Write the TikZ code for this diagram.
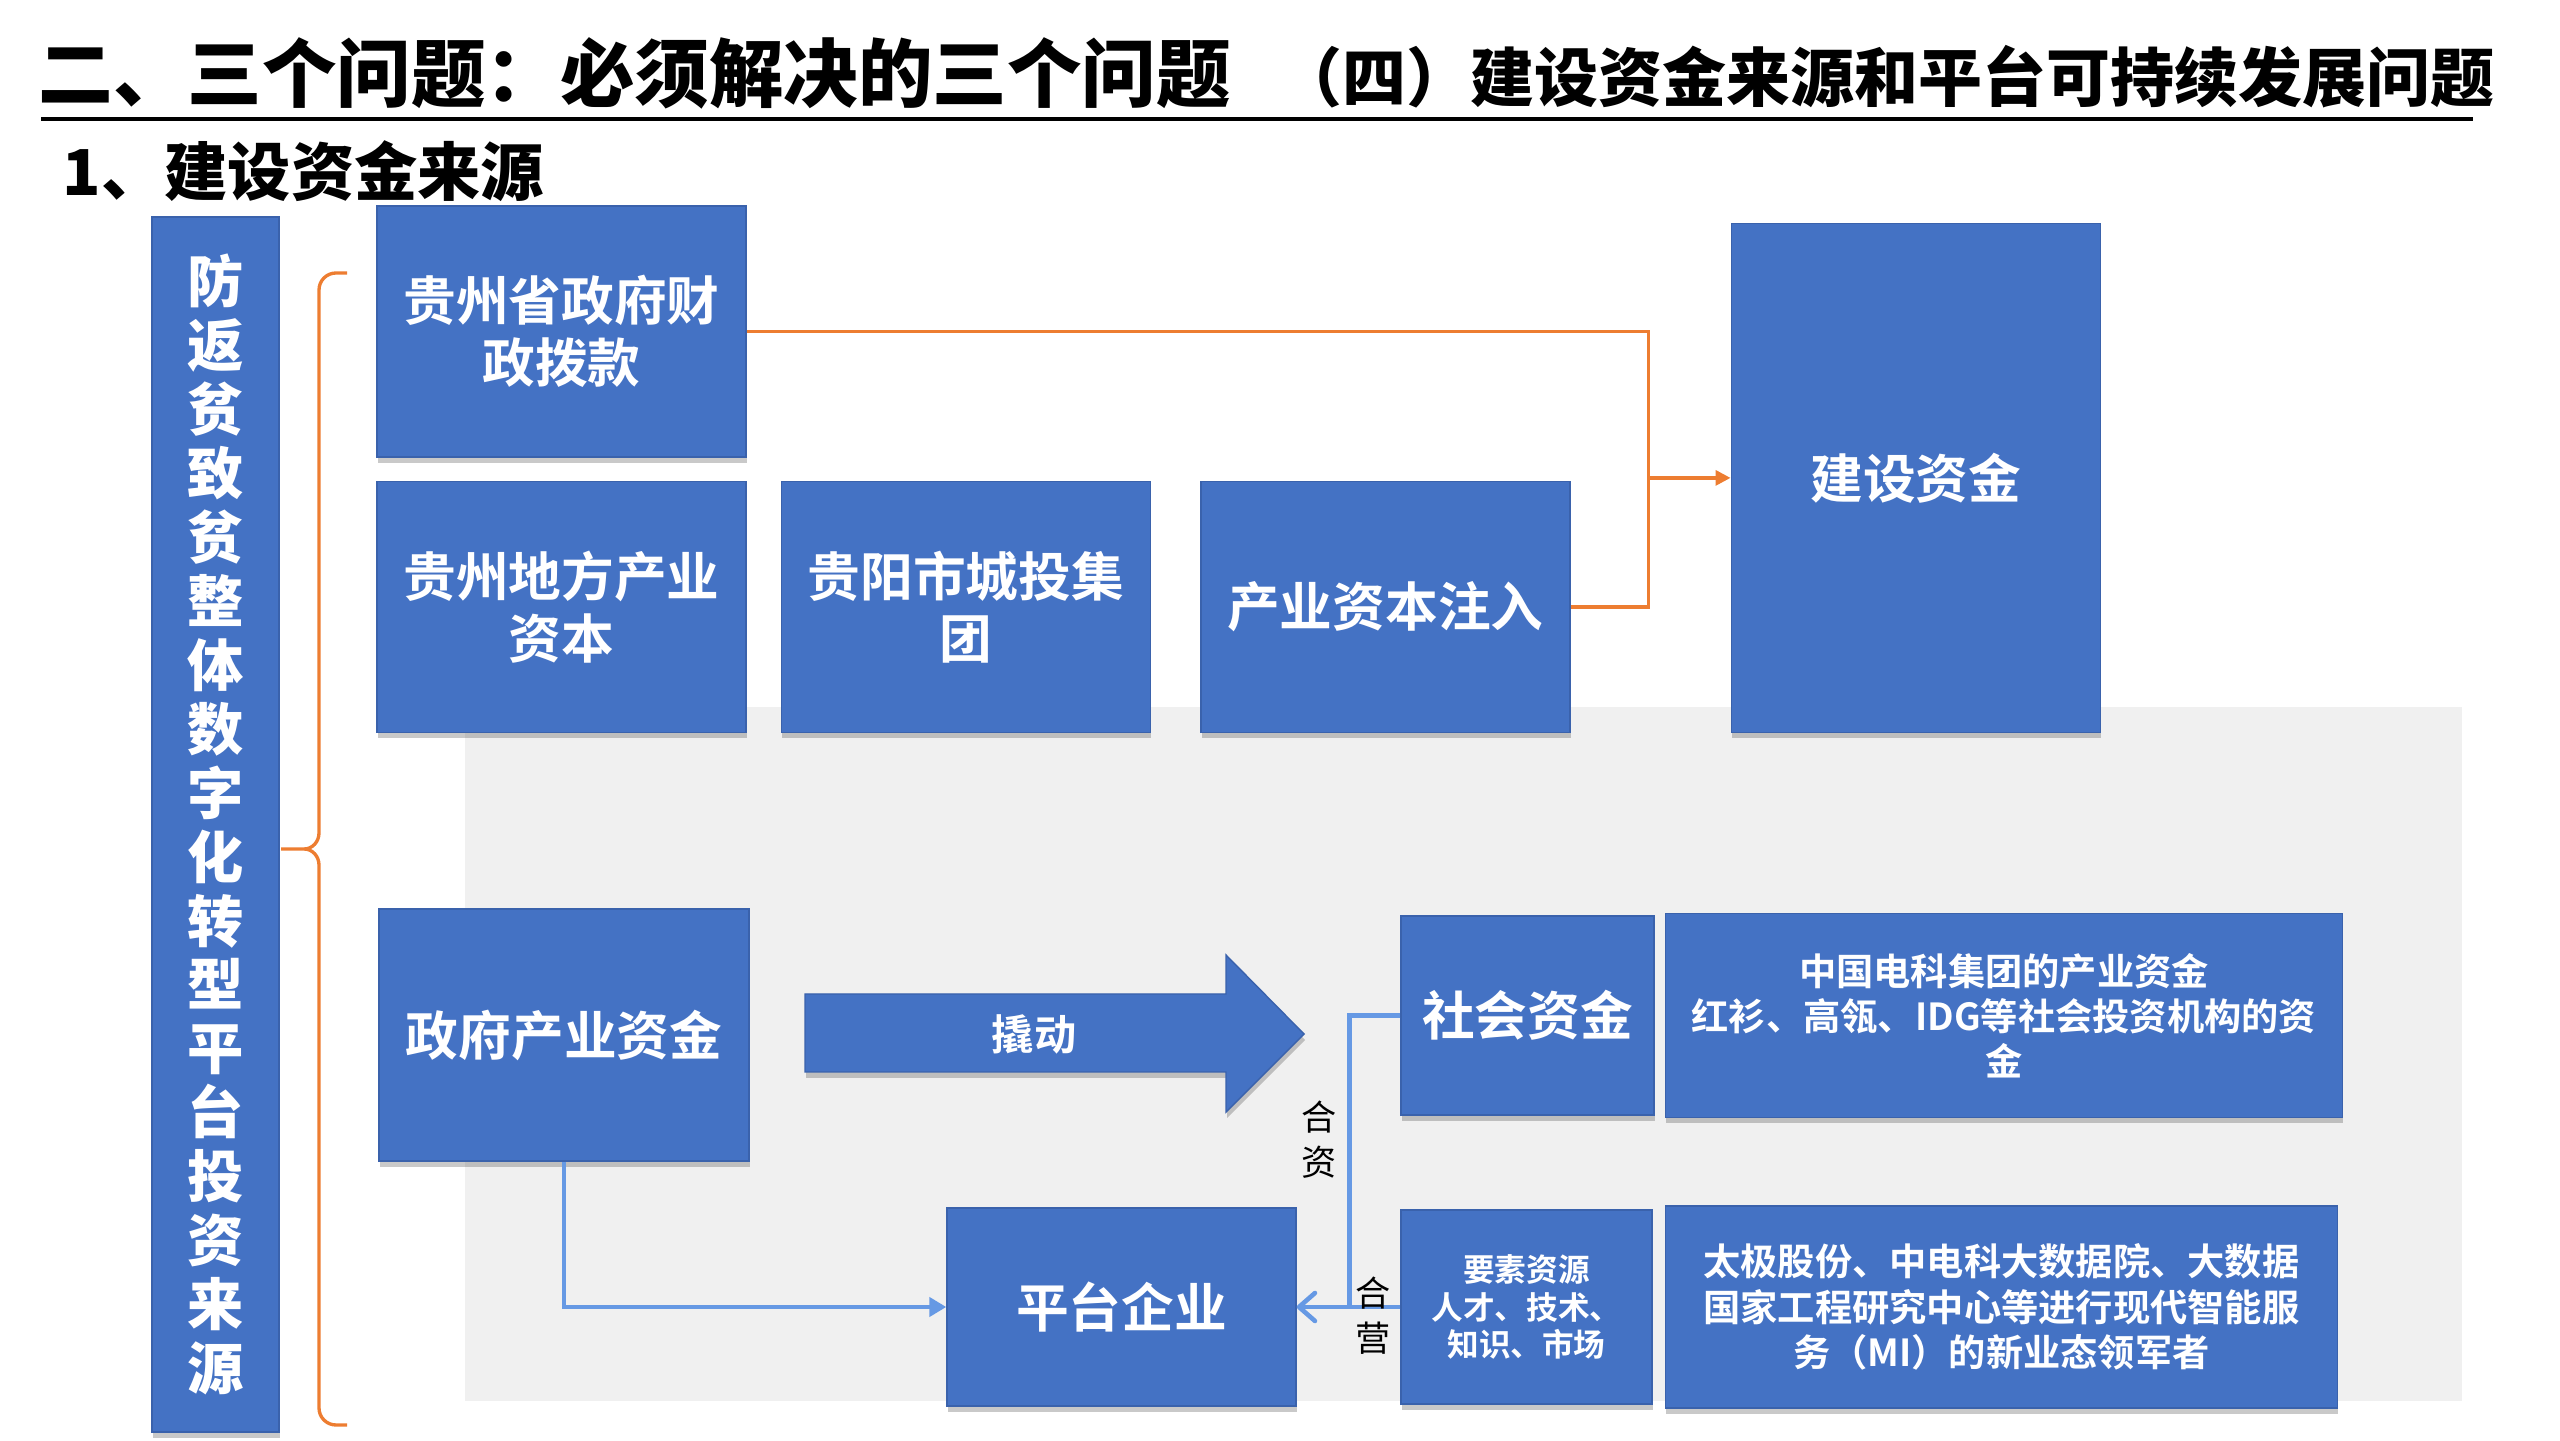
\documentclass[tikz,border=0pt]{standalone}
\usepackage{fontspec}
\setmainfont{Noto Sans CJK SC}[BoldFont={Noto Sans CJK SC Bold}]
\newfontfamily\heavyfont{Noto Sans CJK SC Black}
\usepackage{xcolor}
\usepackage{tikz}
\usetikzlibrary{arrows.meta, positioning, calc, shadows}
\definecolor{boxblue}{RGB}{68,114,196}
\definecolor{boxedge}{RGB}{58,98,172}
\definecolor{linkorange}{RGB}{237,125,49}
\definecolor{linkblue}{RGB}{102,153,228}
\definecolor{panelgray}{RGB}{240,240,240}

\begin{document}
\begin{tikzpicture}[
    node distance=0.3cm,
    box/.style={draw=boxedge, fill=boxblue, text=white, align=center, inner sep=2pt, font=\bfseries\fontsize{15}{17.6}\selectfont,
        drop shadow={shadow xshift=0.01cm, shadow yshift=-0.06cm, opacity=0.3, fill=black!70}},
    mainbox/.style={box, minimum width=3.69cm, minimum height=2.51cm},
    widebox/.style={box, font=\bfseries\fontsize{10.6}{12.8}\selectfont},
    tag/.style={align=center, inner sep=0, font=\fontsize{10}{12.8}\selectfont},
    orangeline/.style={draw=linkorange, line width=0.95pt},
    bluelink/.style={draw=linkblue, line width=1.3pt},
    arrow/.style={-{Triangle[length=0.15cm, width=0.15cm]}},
    bluearrow/.style={-{Triangle[length=0.17cm, width=0.19cm]}},
    barbarrow/.style={-{Straight Barb[length=0.16cm, width=0.28cm, round]}}
]
    \useasboundingbox (0,0) rectangle (25.6,14.4);
    \fill[panelgray] (4.65,0.39) rectangle (24.62,7.33);

    \node[anchor=west, inner sep=0, font=\heavyfont\fontsize{21.2}{24}\selectfont] (title) at (0.38,13.67) {二、三个问题：必须解决的三个问题};
    \node[anchor=base west, inner sep=0, font=\heavyfont\fontsize{18.2}{21}\selectfont] (subtitle) at ($(title.base west)+(12.4,0)$) {（四）建设资金来源和平台可持续发展问题};
    \draw[line width=1pt] (0.41,13.21) -- (24.73,13.21);
    \node[anchor=west, inner sep=0, font=\heavyfont\fontsize{18}{20}\selectfont] (section) at (0.62,12.69) {1、建设资金来源};

    \node[box, minimum width=1.27cm, minimum height=12.15cm, font=\heavyfont\fontsize{16}{18.2}\selectfont] (target) at (2.155,6.155)
        {防\\返\\贫\\致\\贫\\整\\体\\数\\字\\化\\转\\型\\平\\台\\投\\资\\来\\源};

    \node[mainbox] (grant) at (5.615,11.085) {贵州省政府财\\政拨款};
    \node[mainbox, below=0.23cm of grant] (local) {贵州地方产业\\资本};
    \node[mainbox, right=0.34cm of local] (urban) {贵阳市城投集\\团};
    \node[mainbox, right=0.49cm of urban] (inject) {产业资本注入};
    \node[mainbox, minimum height=5.09cm, right=1.6cm of inject.south east, anchor=south west] (fund) {建设资金};

    \coordinate (merge) at ($(fund.west)+(-0.82,0)$);
    \draw[orangeline] (grant.east) -| (merge);
    \draw[orangeline] (inject.east) -| (merge);
    \draw[orangeline, arrow] (merge) -- (fund.west);

    \draw[orangeline] (3.47,11.67) -- (3.36,11.67) to[out=180,in=90] (3.19,11.5) -- (3.19,6.07)
        to[out=-90,in=0] (3.04,5.91) -- (2.81,5.91) (3.04,5.91) to[out=0,in=90] (3.19,5.75)
        -- (3.19,0.32) to[out=-90,in=180] (3.36,0.15) -- (3.47,0.15);

    \node[mainbox, minimum width=3.70cm, minimum height=2.52cm] (govfund) at (5.64,4.05) {政府产业资金};
    \filldraw[draw=boxedge, fill=boxblue, drop shadow={shadow xshift=0.01cm, shadow yshift=-0.06cm, opacity=0.3, fill=black!70}]
        (8.05,4.46) -- (12.26,4.46) -- (12.26,4.85) -- (13.04,4.06) -- (12.26,3.28) -- (12.26,3.68) -- (8.05,3.68) -- cycle;
    \node[text=white, font=\bfseries\fontsize{12}{14}\selectfont] (lever) at (10.34,4.06) {撬动};

    \node[box, minimum width=3.49cm, minimum height=1.98cm] (platform) at (11.215,1.33) {平台企业};
    \node[box, minimum width=2.53cm, minimum height=1.99cm] (social) at (15.275,4.245) {社会资金};
    \node[widebox, minimum width=6.77cm, minimum height=2.04cm, right=0.1cm of social] (investors)
        {中国电科集团的产业资金\\红衫、高瓴、IDG等社会投资机构的资\\金};
    \node[box, minimum width=2.51cm, minimum height=1.94cm, font=\bfseries\fontsize{9}{10.7}\selectfont] (factor) at (15.265,1.33)
        {要素资源\\人才、技术、\\知识、市场};
    \node[widebox, minimum width=6.72cm, minimum height=2.02cm, right=0.12cm of factor, font=\bfseries\fontsize{10.6}{13}\selectfont] (leaders)
        {太极股份、中电科大数据院、大数据\\国家工程研究中心等进行现代智能服\\务（MI）的新业态领军者};

    \coordinate (joint) at ($(platform.east)+(0.53,0)$);
    \draw[bluelink, bluearrow] (govfund.south) |- (platform.west);
    \draw[bluelink] (social.west) -| (joint);
    \draw[bluelink, barbarrow] (factor.west) -- (platform.east);

    \node[tag] (jointcap) at (13.19,3.0) {合\\资};
    \node[tag] (jointop) at (13.73,1.24) {合\\营};
\end{tikzpicture}
\end{document}
